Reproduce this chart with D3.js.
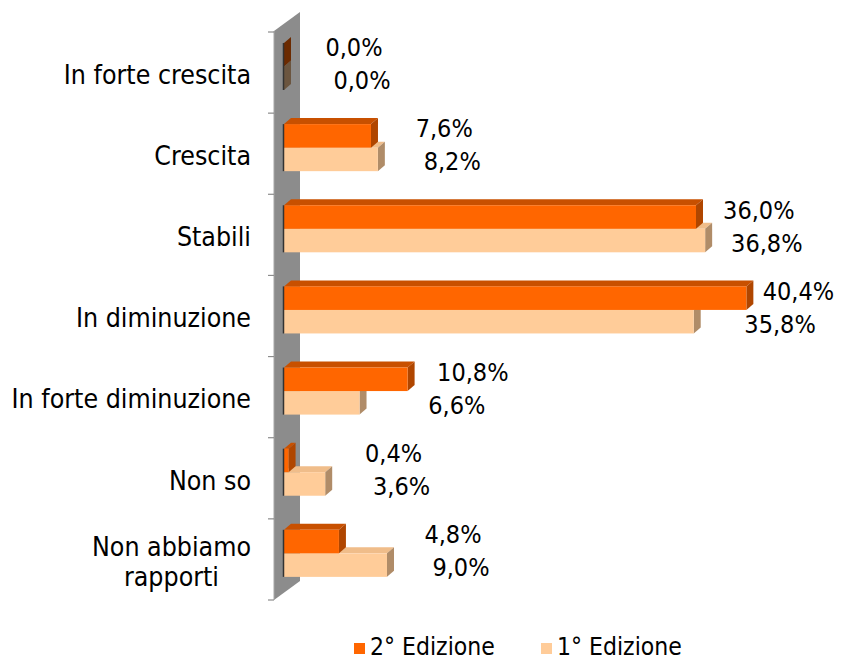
<!DOCTYPE html>
<html>
<head>
<meta charset="utf-8">
<script src="https://cdn.jsdelivr.net/npm/d3@7"></script>
<style>
  body { margin: 0; background: #fff; }
  svg text { font-family: "DejaVu Sans Condensed", "DejaVu Sans", sans-serif; fill: #000; }
</style>
</head>
<body>
<main></main>
<script>
// Data
const categories = ['In forte crescita', 'Crescita', 'Stabili', 'In diminuzione', 'In forte diminuzione', 'Non so', 'Non abbiamo rapporti']
const edizione2 = [0.0, 7.6, 36.0, 40.4, 10.8, 0.4, 4.8]
const edizione1 = [0.0, 8.2, 36.8, 35.8, 6.6, 3.6, 9.0]
const seriesNames = ['2° Edizione', '1° Edizione']

// Configuration
const width = 862
const height = 661
const catFont = 26.5
const valFont = 25
const legendFont = 24.5
const depth = { dx: 7, dy: -6 }
const colors = {
    e2: { front: '#ff6600', top: '#c85000', side: '#b04600' },
    e1: { front: '#ffcc99', top: '#f0bd8a', side: '#b08c68' }
}

const svg = d3.select('main')
    .append('svg')
    .attr('width', width)
    .attr('height', height)

const x = d3.scaleLinear().domain([0, 45]).range([284, 799])
const labelX = d3.scaleLinear().domain([0, 45]).range([354, 849])
const y = d3.scaleBand().domain(categories).range([32, 600])
const band = y.bandwidth()
const barH = band * 0.29
const barOff = band * 0.135

// Wall
svg.append('polygon')
    .attr('points', [[274, 31], [300, 12], [300, 581], [274, 600]].join(' '))
    .attr('fill', '#8c8c8c')
svg.append('line')
    .attr('x1', 274).attr('x2', 274)
    .attr('y1', 31).attr('y2', 600)
    .attr('stroke', '#a6a6a6')

// Ticks
const ticks = categories.map(c => y(c)).concat([y.range()[1]])
svg.selectAll('.tick')
    .data(ticks)
    .enter()
    .append('line')
    .attr('x1', 268).attr('x2', 274)
    .attr('y1', d => d).attr('y2', d => d)
    .attr('stroke', '#8c8c8c')
    .attr('stroke-width', 1.2)

// 3D bar
const bar3d = (g, x0, x1, y0, h, c) => {
    const { dx, dy } = depth
    const empty = x1 - x0 < 1
    g.append('polygon')
        .attr('points', [[x0, y0], [x0 + dx, y0 + dy], [x1 + dx, y0 + dy], [x1, y0]].join(' '))
        .attr('fill', c.top)
    g.append('polygon')
        .attr('points', [[x1, y0], [x1 + dx, y0 + dy], [x1 + dx, y0 + h + dy], [x1, y0 + h]].join(' '))
        .attr('fill', empty ? d3.color(c.side).darker(1.4) : c.side)
    g.append('rect')
        .attr('x', x0).attr('y', y0)
        .attr('width', x1 - x0).attr('height', h)
        .attr('fill', c.front)
}

const bars = svg.append('g').classed('bars', true)
categories.forEach((cat, i) => {
    const top = y(cat) + barOff
    const g = bars.append('g')
    bar3d(g, x(0), x(edizione1[i]), top + barH, barH, colors.e1)
    bar3d(g, x(0), x(edizione2[i]), top, barH, colors.e2)
    g.append('line')
        .attr('x1', x(0) - 0.5).attr('x2', x(0) - 0.5)
        .attr('y1', top).attr('y2', top + 2 * barH)
        .attr('stroke', '#333')
        .attr('stroke-width', 1.5)
})

// Value labels
const fmt = v => v.toFixed(1).replace('.', ',') + '%'
const labels = svg.append('g').classed('labels', true)
    .attr('font-size', valFont)
    .attr('text-anchor', 'middle')
categories.forEach((cat, i) => {
    const mid = y(cat) + band / 2
    const rowMax = Math.max(edizione2[i], edizione1[i])
    const shift = Math.max(0, x(edizione2[i]) - x(edizione1[i])) / 2
    labels.append('text')
        .attr('x', labelX(rowMax))
        .attr('y', mid - 25)
        .attr('dy', '0.35em')
        .text(fmt(edizione2[i]))
    labels.append('text')
        .attr('x', labelX(rowMax) + 8 - shift)
        .attr('y', mid + 8)
        .attr('dy', '0.35em')
        .text(fmt(edizione1[i]))
})

// Category labels
const catG = svg.append('g').classed('categories', true)
    .attr('font-size', catFont)
categories.forEach(cat => {
    const mid = y(cat) + band / 2 + 2
    const lines = cat === 'Non abbiamo rapporti' ? ['Non abbiamo', 'rapporti'] : [cat]
    const t = catG.append('text')
        .attr('text-anchor', 'middle')
    lines.forEach((l, k) => {
        t.append('tspan')
            .attr('x', 0)
            .attr('y', mid + (k - (lines.length - 1) / 2) * 30)
            .attr('dy', '0.35em')
            .text(l)
    })
    const w = d3.max(t.selectAll('tspan').nodes(), n => n.getComputedTextLength())
    t.selectAll('tspan').attr('x', 251 - w / 2)
})

// Legend
const legend = svg.append('g').classed('legend', true)
    .attr('font-size', legendFont)
const legendItems = [
    { name: seriesNames[0], color: colors.e2.front, x: 354 },
    { name: seriesNames[1], color: colors.e1.front, x: 541 }
]
legendItems.forEach(d => {
    legend.append('rect')
        .attr('x', d.x).attr('y', 643)
        .attr('width', 11).attr('height', 11)
        .attr('fill', d.color)
    legend.append('text')
        .attr('x', d.x + 16)
        .attr('y', 646)
        .attr('dy', '0.35em')
        .text(d.name)
})
</script>
</body>
</html>
